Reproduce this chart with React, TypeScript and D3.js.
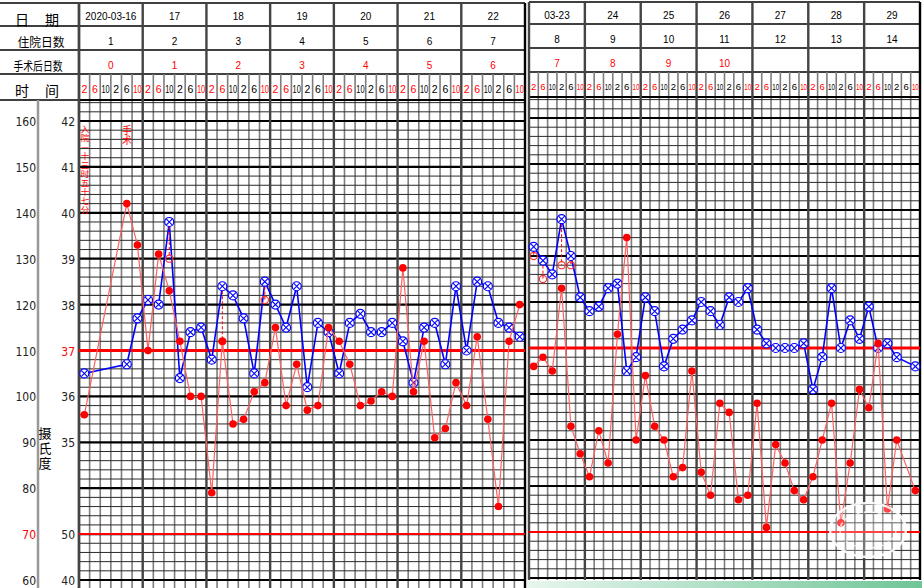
import * as d3 from 'd3';

// header rows
const leftDates = ['2020-03-16', '17', '18', '19', '20', '21', '22'];
const rightDates = ['03-23', '24', '25', '26', '27', '28', '29'];
const leftStayDays = ['1', '2', '3', '4', '5', '6', '7'];
const rightStayDays = ['8', '9', '10', '11', '12', '13', '14'];
const leftPostOpDays = ['0', '1', '2', '3', '4', '5', '6'];
const rightPostOpDays = ['7', '8', '9', '10', '', '', ''];
const timeSlots = ['2', '6', '10', '2', '6', '10'];
const timeSlotRed = [true, true, false, false, false, true];

// left axis: pulse ticks and the temperature column beside them
const pulseTicks = [160, 150, 140, 130, 120, 110, 100, 90, 80, 70, 60];
const tempAxisLabels = ['42', '41', '40', '39', '38', '37', '36', '35', '', '50', '40'];

// temperature (blue), 6 readings a day, null = not taken
const tempWeek1 = [36.5, null, null, null, 36.7, 37.7, 38.1, 38.0, 39.8, 36.4, 37.4, 37.5, 36.8, 38.4, 38.2, 37.7, 36.5, 38.5, 38.0, 37.5, 38.4, 36.2, 37.6, 37.4, 36.5, 37.6, 37.8, 37.4, 37.4, 37.6, 37.2, 36.3, 37.5, 37.6, 36.7, 38.4, 37.0, 38.5, 38.4, 37.6, 37.5, 37.3];
const tempWeek2 = [39.2, 38.9, 38.6, 39.8, 39.0, 38.1, 37.8, 37.9, 38.3, 38.4, 36.5, 36.8, 38.1, 37.8, 36.6, 37.2, 37.4, 37.6, 38.0, 37.8, 37.5, 38.1, 38.0, 38.3, 37.4, 37.1, 37.0, 37.0, 37.0, 37.1, 36.1, 36.8, 38.3, 37.0, 37.6, 37.2, 37.9, 37.0, 37.1, 36.8, null, 36.6];

// pulse (red dots)
const pulseWeek1 = [96, null, null, null, 142, 133, 110, 131, 123, 112, 100, 100, 79, 112, 94, 95, 101, 103, 115, 98, 107, 97, 98, 115, 112, 107, 98, 99, 101, 100, 128, 101, 112, 91, 93, 103, 98, 113, 95, 76, 112, 120];
const pulseWeek2 = [106, 108, 105, 123, 93, 87, 82, 92, 85, 113, 134, 90, 104, 93, 90, 82, 84, 105, 83, 78, 98, 96, 77, 78, 98, 71, 89, 85, 79, 77, 82, 90, 98, 72, 85, 101, 97, 111, 75, 90, null, 79];

// temperature after physical cooling (red hollow circles)
const coolingWeek1 = [
    { slot: 8, value: 39.0 },
    { slot: 13, value: 37.2 },
    { slot: 17, value: 38.1 },
];
const coolingWeek2 = [
    { slot: 0, value: 39.0 },
    { slot: 1, value: 38.5 },
    { slot: 3, value: 38.8 },
    { slot: 4, value: 38.8 },
];

const W = 922;
const H = 588;
const CJK = "'Noto Sans CJK SC', sans-serif";
const NUM = "'Liberation Sans', Arial, sans-serif";
const NARROW = "'Liberation Sans Narrow', 'DejaVu Sans Condensed', sans-serif";

interface PanelProps {
    x0: number;
    x1: number;
    rows: number[];
    y42: number;
    bottom: number;
    gridBottom: number;
    dates: string[];
    stay: string[];
    postOp: string[];
    temps: (number | null)[];
    pulses: (number | null)[];
    cooling: { slot: number; value: number }[];
}

function Panel({ x0, x1, rows, y42, bottom, gridBottom, dates, stay, postOp, temps, pulses, cooling }: PanelProps) {
    const x = d3.scaleLinear().domain([0, 42]).range([x0, x1]);
    const yT = d3.scaleLinear().domain([32, 42]).range([bottom, y42]);
    const yP = d3.scaleLinear().domain([60, 160]).range([bottom, y42]);
    const slotW = x(1) - x(0);
    const gridTop = rows[4];
    const timeFont = slotW > 10 ? 10.5 : 9.5;

    const hLines: { y: number; major: boolean }[] = [];
    for (let k = 0; ; k++) {
        const yy = yT(32 + k * 0.2);
        if (yy < gridTop + 1) break;
        hLines.push({ y: yy, major: k % 5 === 0 });
    }

    const tempPts = temps.map((v, i) => ({ i, v })).filter((d) => d.v !== null) as { i: number; v: number }[];
    const pulsePts = pulses.map((v, i) => ({ i, v })).filter((d) => d.v !== null) as { i: number; v: number }[];

    const tempLine = d3.line<{ i: number; v: number }>()
        .x((d) => x(d.i + 0.5))
        .y((d) => yT(d.v));
    const pulseLine = d3.line<{ i: number; v: number }>()
        .x((d) => x(d.i + 0.5))
        .y((d) => yP(d.v));

    const rowMid = (r: number) => (rows[r] + rows[r + 1]) / 2 + 3;

    return (
        <g>
            {/* header row lines */}
            {rows.map((r, k) => (
                <line key={'hr' + k} x1={x0} x2={x1} y1={r} y2={r} stroke="#000" strokeWidth={1.3} />
            ))}
            {/* minor verticals */}
            {d3.range(0, 43).filter((k) => k % 6 !== 0).map((k) => (
                <line key={'v' + k} x1={x(k)} x2={x(k)} y1={rows[3]} y2={gridBottom} stroke="#7d7d7d" strokeWidth={1.6} />
            ))}
            {/* horizontal grid */}
            {hLines.map((l, k) => (
                <line key={'h' + k} x1={x0} x2={x1} y1={l.y} y2={l.y}
                    stroke={l.major ? '#000' : '#2a2a2a'} strokeWidth={l.major ? 2.2 : 1} />
            ))}
            <line x1={x0} x2={x1} y1={gridTop} y2={gridTop} stroke="#000" strokeWidth={2} />
            {/* day verticals */}
            {d3.range(0, 43, 6).map((k) => (
                <line key={'d' + k} x1={x(k)} x2={x(k)} y1={rows[0]} y2={gridBottom}
                    stroke={k === 42 ? '#000' : '#444'} strokeWidth={2.4} />
            ))}
            {/* 37 degree and 50 reference lines */}
            <line x1={x0} x2={x1} y1={yT(37)} y2={yT(37)} stroke="#ff0000" strokeWidth={3} />
            <line x1={x0} x2={x1} y1={yT(33)} y2={yT(33)} stroke="#ff0000" strokeWidth={2} />

            {/* header texts */}
            {dates.map((d, k) => (
                <text key={'dt' + k} x={x(k * 6 + 3)} y={rowMid(0) - 1} textAnchor="middle" dominantBaseline="central"
                    fontFamily={NUM} fontSize={10}>{d}</text>
            ))}
            {stay.map((d, k) => (
                <text key={'st' + k} x={x(k * 6 + 3)} y={rowMid(1)} textAnchor="middle" dominantBaseline="central"
                    fontFamily={NUM} fontSize={10}>{d}</text>
            ))}
            {postOp.map((d, k) => (
                <text key={'po' + k} x={x(k * 6 + 3)} y={rowMid(2)} textAnchor="middle" dominantBaseline="central"
                    fontFamily={NUM} fontSize={10} fill="#ff0000">{d}</text>
            ))}
            {d3.range(0, 42).map((k) => {
                const lbl = timeSlots[k % 6];
                return (
                    <text key={'ts' + k} x={x(k + 0.5)} y={rowMid(3) - 1} textAnchor="middle" dominantBaseline="central"
                        fontFamily={NUM} fontSize={timeFont} fill={timeSlotRed[k % 6] ? '#ff0000' : '#000'}
                        textLength={lbl.length > 1 ? slotW - 2.4 : undefined}
                        lengthAdjust="spacingAndGlyphs">{lbl}</text>
                );
            })}

            {/* temperature */}
            <path d={tempLine(tempPts) || ''} fill="none" stroke="#0000ff" strokeWidth={1.6} />
            {cooling.map((c) => {
                const t = temps[c.slot] as number;
                return (
                    <line key={'cl' + c.slot} x1={x(c.slot + 0.5)} x2={x(c.slot + 0.5)} y1={yT(t)} y2={yT(c.value)}
                        stroke="#ff0000" strokeWidth={1} strokeDasharray="3 2" />
                );
            })}
            {cooling.map((c) => (
                <circle key={'cc' + c.slot} cx={x(c.slot + 0.5)} cy={yT(c.value)} r={3.6}
                    fill="none" stroke="#ff3333" strokeWidth={1.1} />
            ))}
            {tempPts.map((d) => {
                const cx = x(d.i + 0.5);
                const cy = yT(d.v);
                const a = 3.1;
                return (
                    <g key={'tp' + d.i}>
                        <circle cx={cx} cy={cy} r={4.5} fill="#fff" stroke="#0000ff" strokeWidth={1.2} />
                        <line x1={cx - a} y1={cy - a} x2={cx + a} y2={cy + a} stroke="#0000ff" strokeWidth={1.1} />
                        <line x1={cx - a} y1={cy + a} x2={cx + a} y2={cy - a} stroke="#0000ff" strokeWidth={1.1} />
                    </g>
                );
            })}

            {/* pulse */}
            <path d={pulseLine(pulsePts) || ''} fill="none" stroke="#ff6060" strokeWidth={1.2} />
            {pulsePts.map((d) => (
                <circle key={'pp' + d.i} cx={x(d.i + 0.5)} cy={yP(d.v)} r={3.8} fill="#ff0000" />
            ))}
        </g>
    );
}

export default function App() {
    const yAxis = d3.scaleLinear().domain([60, 160]).range([580, 121]);
    const leftRows = [3, 26, 50, 74, 100];
    const vertical = { writingMode: 'vertical-rl', textOrientation: 'upright' } as React.CSSProperties;

    return (
        <div style={{ position: 'absolute', left: 0, top: 0 }}>
            <svg width={W} height={H} style={{ display: 'block', background: '#fff' }}>
                <defs>
                    <linearGradient id="strip" x1="0" x2="1" y1="0" y2="0">
                        <stop offset="0" stopColor="#e8f6ee" />
                        <stop offset="1" stopColor="#6fc597" />
                    </linearGradient>
                </defs>

                {/* label column */}
                {leftRows.map((r, k) => (
                    <line key={'lr' + k} x1={0} x2={79} y1={r} y2={r} stroke="#000" strokeWidth={1.3} />
                ))}
                <line x1={79} x2={79} y1={3} y2={588} stroke="#333" strokeWidth={2.4} />
                <line x1={38} x2={38} y1={100} y2={588} stroke="#999" strokeWidth={2.5} />
                <text x={22} y={19} textAnchor="middle" dominantBaseline="central" fontFamily={CJK} fontSize={14}>日</text>
                <text x={52} y={19} textAnchor="middle" dominantBaseline="central" fontFamily={CJK} fontSize={14}>期</text>
                <text x={41} y={41} textAnchor="middle" dominantBaseline="central" fontFamily={CJK} fontSize={12.5}
                    textLength={47} lengthAdjust="spacingAndGlyphs">住院日数</text>
                <text x={38} y={65} textAnchor="middle" dominantBaseline="central" fontFamily={CJK} fontSize={12.5}
                    textLength={49} lengthAdjust="spacingAndGlyphs">手术后日数</text>
                <text x={22} y={90} textAnchor="middle" dominantBaseline="central" fontFamily={CJK} fontSize={14}>时</text>
                <text x={52} y={90} textAnchor="middle" dominantBaseline="central" fontFamily={CJK} fontSize={14}>间</text>

                {pulseTicks.map((p, k) => (
                    <g key={'ax' + p}>
                        <text x={36} y={yAxis(p) + 1} textAnchor="end" dominantBaseline="central" fontFamily={NARROW}
                            fontSize={12} fill={p === 70 ? '#ff0000' : '#222'}>{p}</text>
                        <text x={75} y={yAxis(p) + 1} textAnchor="end" dominantBaseline="central" fontFamily={NARROW}
                            fontSize={12} fill={tempAxisLabels[k] === '37' ? '#ff0000' : '#222'}>{tempAxisLabels[k]}</text>
                    </g>
                ))}
                <text x={45} y={427} style={vertical} fontFamily={CJK} fontSize={13} letterSpacing={2}>摄氏度</text>

                <Panel x0={79} x1={525} rows={leftRows} y42={121} bottom={580} gridBottom={588}
                    dates={leftDates} stay={leftStayDays} postOp={leftPostOpDays}
                    temps={tempWeek1} pulses={pulseWeek1} cooling={coolingWeek1} />
                <Panel x0={529} x1={920} rows={[2, 24, 48, 72, 97]} y42={118} bottom={578} gridBottom={580}
                    dates={rightDates} stay={rightStayDays} postOp={rightPostOpDays}
                    temps={tempWeek2} pulses={pulseWeek2} cooling={coolingWeek2} />

                {/* event notes */}
                <text x={85} y={125} style={vertical} fontFamily={CJK} fontSize={8.5} letterSpacing={0.5} fill="#ff0000">入院—十三时五十七分</text>
                <text x={127} y={125} style={vertical} fontFamily={CJK} fontSize={10} fill="#ff0000">手术</text>

                {/* stamp + bottom strip */}
                <ellipse cx={868} cy={530} rx={38} ry={27} fill="rgba(255,255,255,0.3)" stroke="#fff" strokeWidth={2.5} opacity={0.9} />
                <ellipse cx={868} cy={530} rx={28} ry={18} fill="none" stroke="#fff" strokeWidth={1.5} strokeDasharray="4 3" opacity={0.8} />
                <rect x={527} y={581} width={395} height={7} fill="url(#strip)" />
            </svg>
        </div>
    );
}
